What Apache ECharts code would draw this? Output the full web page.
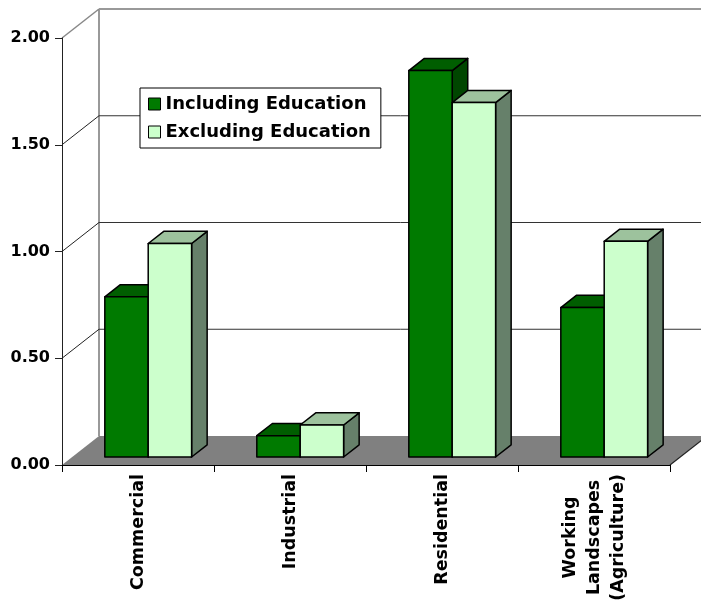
<!DOCTYPE html>
<html>
<head>
<meta charset="utf-8">
<script src="https://cdn.jsdelivr.net/npm/echarts@6/dist/echarts.min.js"></script>
<style>html,body{margin:0;padding:0;background:#fff}#c{width:701px;height:601px}</style>
</head>
<body>
<div id="c"></div>
<script>
var categories = ['Commercial', 'Industrial', 'Residential', 'Working\nLandscapes\n(Agriculture)'];
var includingEducation = [0.75, 0.10, 1.81, 0.70];
var excludingEducation = [1.00, 0.15, 1.66, 1.01];
var yTicks = [0, 0.5, 1.0, 1.5, 2.0];
var seriesNames = ['Including Education', 'Excluding Education'];

var FONT = 'DejaVu Sans';
var DEPTH = [37, -29];          // wall depth offset (px)
var BAR_FRONT = 0.276;          // bar front plane as fraction of depth
var BAR_DEPTH = 0.42;           // bar depth as fraction of depth
var BAR_W = 0.2855;             // bar width as fraction of category width

var palettes = [
  {front: '#007A00', top: '#005E00', side: '#004600'},
  {front: '#CCFFCC', top: '#9DC29D', side: '#66806A'}
];

function barRender(idx) {
  return function (params, api) {
    var cat = api.value(0), val = api.value(1);
    var t = api.coord([cat, val]);
    var b = api.coord([cat, 0]);
    var catW = api.size([1, 0])[0];
    var bw = catW * BAR_W;
    var fx = DEPTH[0] * BAR_FRONT, fy = DEPTH[1] * BAR_FRONT;
    var dx = DEPTH[0] * BAR_DEPTH, dy = DEPTH[1] * BAR_DEPTH;
    var x0 = t[0] + (idx === 0 ? -bw : 0) + fx;
    var x1 = x0 + bw;
    var yt = t[1] + fy, yb = b[1] + fy;
    var p = palettes[idx];
    var st = {stroke: '#000', lineWidth: 1.5, lineJoin: 'round'};
    return {
      type: 'group',
      children: [
        {type: 'polygon', shape: {points: [[x1, yt], [x1 + dx, yt + dy], [x1 + dx, yb + dy], [x1, yb]]}, style: Object.assign({fill: p.side}, st)},
        {type: 'polygon', shape: {points: [[x0, yt], [x1, yt], [x1 + dx, yt + dy], [x0 + dx, yt + dy]]}, style: Object.assign({fill: p.top}, st)},
        {type: 'rect', shape: {x: x0, y: yt, width: bw, height: yb - yt}, style: Object.assign({fill: p.front}, st)}
      ]
    };
  };
}

function frameRender(params, api) {
  var catW = api.size([1, 0])[0];
  var L = api.coord([0, 0])[0] - catW / 2;
  var R = api.coord([categories.length - 1, 0])[0] + catW / 2;
  var y0 = api.coord([0, 0])[1];
  var dx = DEPTH[0], dy = DEPTH[1];
  var children = [];
  children.push({type: 'polygon', shape: {points: [[L, y0], [R, y0], [R + dx, y0 + dy], [L + dx, y0 + dy]]}, style: {fill: '#808080'}});
  children.push({type: 'line', shape: {x1: R, y1: y0, x2: R + dx, y2: y0 + dy}, style: {stroke: '#222', lineWidth: 1.2}});
  var yTop = api.coord([0, yTicks[yTicks.length - 1]])[1];
  children.push({type: 'line', shape: {x1: L + dx, y1: yTop + dy, x2: L + dx, y2: y0 + dy}, style: {stroke: '#999', lineWidth: 2}});
  for (var i = 1; i < yTicks.length; i++) {
    var y = api.coord([0, yTicks[i]])[1];
    var last = i === yTicks.length - 1;
    var col = last ? '#999' : '#333';
    children.push({type: 'line', shape: {x1: L + dx, y1: y + dy, x2: R + dx + 10, y2: y + dy}, style: {stroke: col, lineWidth: last ? 2 : 1}});
    children.push({type: 'line', shape: {x1: L, y1: y, x2: L + dx, y2: y + dy}, style: {stroke: last ? '#888' : '#222', lineWidth: last ? 1.5 : 1}});
  }
  return {type: 'group', children: children};
}

var chart = echarts.init(document.getElementById('c'));
chart.setOption({
  animation: false,
  backgroundColor: '#fff',
  grid: {left: 62, right: 31, top: 38, bottom: 136, containLabel: false, outerBoundsMode: 'none'},
  legend: {
    data: [
      {name: seriesNames[0], itemStyle: {color: palettes[0].front, borderColor: '#000', borderWidth: 1}},
      {name: seriesNames[1], itemStyle: {color: palettes[1].front, borderColor: '#000', borderWidth: 1}}
    ],
    orient: 'vertical', left: 140, top: 88,
    icon: 'rect', itemWidth: 12, itemHeight: 12, itemGap: 10,
    padding: [7, 10, 7, 8],
    borderColor: '#000', borderWidth: 1, backgroundColor: '#fff',
    textStyle: {fontFamily: FONT, fontWeight: 'bold', fontSize: 18, color: '#000'},
    selectedMode: false, z: 10
  },
  xAxis: {
    type: 'category', data: categories, z: 5,
    axisLine: {lineStyle: {color: '#000', width: 1}},
    axisTick: {show: true, length: 7, lineStyle: {color: '#000'}},
    axisLabel: {
      rotate: 90, interval: 0, margin: 9, color: '#000',
      fontFamily: FONT, fontWeight: 'bold', fontSize: 17.5, lineHeight: 24,
      formatter: function (v) { return v.split('\n').map(function (s) { return '{c|' + s + '}'; }).join('\n'); },
      rich: {c: {align: 'center', fontFamily: FONT, fontWeight: 'bold', fontSize: 17.5, lineHeight: 24, color: '#000'}}
    },
    splitLine: {show: false}
  },
  yAxis: {
    type: 'value', min: 0, max: 2, interval: 0.5, z: 5,
    axisLine: {show: true, lineStyle: {color: '#222', width: 1}},
    axisTick: {show: true, length: 7, lineStyle: {color: '#222'}},
    axisLabel: {margin: 12, color: '#000', fontFamily: FONT, fontWeight: 'bold', fontSize: 16,
      formatter: function (v) { return v.toFixed(2); }},
    splitLine: {show: false}
  },
  series: [
    {type: 'custom', name: 'frame', silent: true, z: 1, renderItem: frameRender, data: [[0, 0]]},
    {type: 'custom', name: seriesNames[0], z: 2, renderItem: barRender(0), itemStyle: {color: palettes[0].front},
      data: includingEducation.map(function (v, i) { return [i, v]; })},
    {type: 'custom', name: seriesNames[1], z: 3, renderItem: barRender(1), itemStyle: {color: palettes[1].front},
      data: excludingEducation.map(function (v, i) { return [i, v]; })}
  ]
});
</script>
</body>
</html>
